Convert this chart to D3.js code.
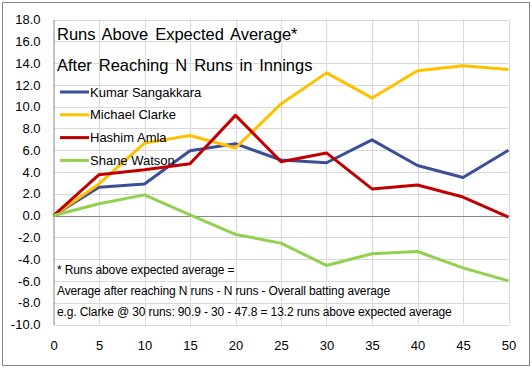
<!DOCTYPE html>
<html>
<head>
<meta charset="utf-8">
<script src="https://cdn.jsdelivr.net/npm/d3@7"></script>
<style>
  body { margin: 0; background: #fff; }
  svg text { font-family: Arial, "Liberation Sans", sans-serif; fill: #000; }
</style>
</head>
<body>
<div id="chart"></div>
<script>
// data
var runs = [0, 5, 10, 15, 20, 25, 30, 35, 40, 45, 50];
var sangakkara = [0, 2.6, 2.9, 5.95, 6.6, 5.1, 4.85, 6.95, 4.6, 3.5, 6.0];
var clarke = [0, 2.9, 6.65, 7.35, 6.2, 10.25, 13.1, 10.8, 13.3, 13.75, 13.4];
var amla = [0, 3.75, 4.2, 4.75, 9.2, 4.95, 5.75, 2.45, 2.8, 1.7, -0.15];
var watson = [0, 1.08, 1.9, 0.07, -1.73, -2.53, -4.58, -3.5, -3.3, -4.8, -6.0];
var seriesNames = ["Kumar Sangakkara", "Michael Clarke", "Hashim Amla", "Shane Watson"];
var seriesColors = ["#3b4e98", "#ffc000", "#c00000", "#92d050"];
var yTicks = d3.range(-10, 18.1, 2);
var xTicks = runs;
var titleLines = ["Runs Above Expected Average*", "After Reaching N Runs in Innings"];
var noteLines = [
	"* Runs above expected average =",
	"Average after reaching N runs -  N runs -  Overall batting average",
	"e.g. Clarke @ 30 runs: 90.9 - 30 - 47.8 = 13.2 runs above expected average"
];

var series = [sangakkara, clarke, amla, watson];

var width = 532, height = 368;
var svg = d3.select("#chart").append("svg")
	.attr("width", width)
	.attr("height", height);

// outer border
svg.append("rect")
	.attr("x", 2.5).attr("y", 2.5)
	.attr("width", 527).attr("height", 363)
	.attr("fill", "none")
	.attr("stroke", "#868686");

var x = d3.scaleLinear().domain([0, 50]).range([53.5, 508.5]);
var y = d3.scaleLinear().domain([-10, 18]).range([324.5, 19.5]);

// gridlines
svg.append("g")
	.selectAll("line.h")
	.data(yTicks)
	.enter().append("line")
	.attr("x1", x(0)).attr("x2", x(50))
	.attr("y1", function(d) { return Math.round(y(d)) + 0.5; })
	.attr("y2", function(d) { return Math.round(y(d)) + 0.5; })
	.attr("stroke", "#d9d9d9");

svg.append("g")
	.selectAll("line.v")
	.data(xTicks.slice(1))
	.enter().append("line")
	.attr("y1", y(18)).attr("y2", y(-10))
	.attr("x1", function(d) { return Math.round(x(d)) + 0.5; })
	.attr("x2", function(d) { return Math.round(x(d)) + 0.5; })
	.attr("stroke", "#d9d9d9");

// y axis - plain hyphen for negatives like the original
var yFmt = function(d) { return d.toFixed(1); };
var yAxis = svg.append("g")
	.attr("transform", "translate(" + x(0) + ",0)")
	.call(d3.axisLeft(y).tickValues(yTicks).tickSize(0).tickPadding(13)
		.tickFormat(yFmt));
yAxis.select(".domain").attr("stroke", "#868686");
yAxis.selectAll("text")
	.style("font-size", "13px")
	.style("font-family", "Arial, 'Liberation Sans', sans-serif")
	.attr("fill", "#000");

// x axis (line at 0, labels at bottom)
svg.append("line")
	.attr("x1", x(0)).attr("x2", x(50))
	.attr("y1", Math.round(y(0)) + 0.5).attr("y2", Math.round(y(0)) + 0.5)
	.attr("stroke", "#868686");

var xAxis = svg.append("g")
	.attr("transform", "translate(0," + y(-10) + ")")
	.call(d3.axisBottom(x).tickValues(xTicks).tickSize(0).tickPadding(16));
xAxis.select(".domain").remove();
xAxis.selectAll("text")
	.style("font-size", "13px")
	.style("font-family", "Arial, 'Liberation Sans', sans-serif")
	.attr("fill", "#000");

// lines
var line = d3.line()
	.x(function(d, i) { return x(runs[i]); })
	.y(function(d) { return y(d); });

svg.append("g")
	.selectAll("path")
	.data(series)
	.enter().append("path")
	.attr("d", line)
	.attr("fill", "none")
	.attr("stroke", function(d, i) { return seriesColors[i]; })
	.attr("stroke-width", 3)
	.attr("stroke-linejoin", "round");

// title
svg.append("g")
	.selectAll("text")
	.data(titleLines)
	.enter().append("text")
	.attr("x", 57)
	.attr("y", function(d, i) { return 39.5 + i * 31; })
	.style("font-size", "16.5px")
	.style("word-spacing", "2.3px")
	.text(function(d) { return d; });

// legend
var legend = svg.append("g")
	.selectAll("g")
	.data(seriesNames)
	.enter().append("g")
	.attr("transform", function(d, i) { return "translate(60," + (92 + i * 22.8) + ")"; });

legend.append("line")
	.attr("x1", 0).attr("x2", 29)
	.attr("stroke", function(d, i) { return seriesColors[i]; })
	.attr("stroke-width", 3);

legend.append("text")
	.attr("x", 30)
	.attr("dy", "0.36em")
	.style("font-size", "13px")
	.text(function(d) { return d; });

// note
svg.append("g")
	.selectAll("text")
	.data(noteLines)
	.enter().append("text")
	.attr("x", 57)
	.attr("y", function(d, i) { return 269.5 + i * 21.2; })
	.attr("dy", "0.36em")
	.style("font-size", "12px")
	.style("letter-spacing", "-0.12px")
	.text(function(d) { return d; });
</script>
</body>
</html>
